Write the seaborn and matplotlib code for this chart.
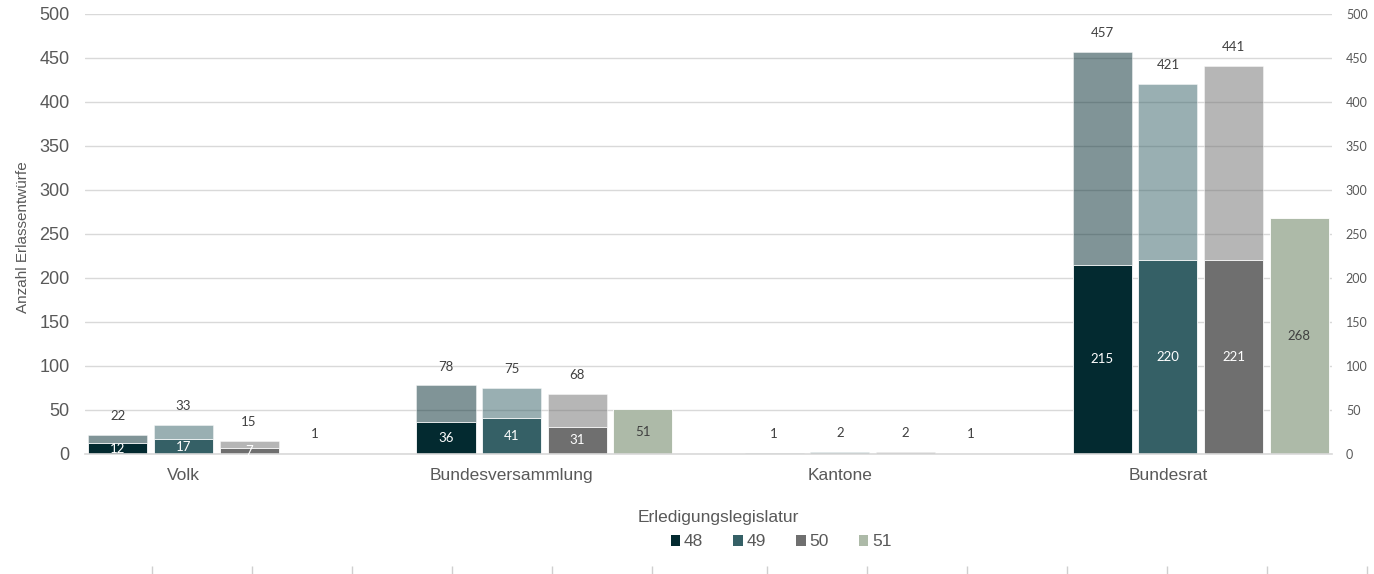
import pandas as pd
import seaborn as sns
from matplotlib import pyplot as plt
from matplotlib.patches import Patch

# Daten
gruppen = ["Volk", "Bundesversammlung", "Kantone", "Bundesrat"]
legislaturen = ["48", "49", "50", "51"]

# Total der Erlassentwürfe (helle Säulen)
total_48 = [22, 78, 1, 457]
total_49 = [33, 75, 2, 421]
total_50 = [15, 68, 2, 441]
total_51 = [1, 51, 1, 268]

# Anteil (dunkle Säulen)
anteil_48 = [12, 36, 0, 215]
anteil_49 = [17, 41, 0, 220]
anteil_50 = [7, 31, 0, 221]
anteil_51 = [1, 51, 1, 268]

farben = ["#032a30", "#356066", "#6f6f6f", "#adbaa8"]
grau = "#595959"
text_grau = "#404040"


def to_long(reihen):
    rows = []
    for leg, werte in zip(legislaturen, reihen):
        for g, w in zip(gruppen, werte):
            rows.append({"Gruppe": g, "Legislatur": leg, "Wert": w})
    return pd.DataFrame(rows)


df_total = to_long([total_48, total_49, total_50, total_51])
df_anteil = to_long([anteil_48, anteil_49, anteil_50, anteil_51])

sns.set_style("white")
plt.rcParams["font.family"] = ["Liberation Sans", "DejaVu Sans"]

fig = plt.figure(figsize=(13.74, 5.74), dpi=100)
ax = fig.add_axes([85 / 1374, 120 / 574, 1247 / 1374, 440 / 574])

pal = dict(zip(legislaturen, farben))
sns.barplot(data=df_total, x="Gruppe", y="Wert", hue="Legislatur", hue_order=legislaturen,
            palette=pal, saturation=1, gap=0.1, errorbar=None, legend=False, ax=ax,
            edgecolor="white", linewidth=0.6)
n_total = len(ax.containers)
for cont, leg in zip(ax.containers[:n_total], legislaturen):
    for p in cont:
        p.set_alpha(0.5 if leg != "51" else 0.0)

sns.barplot(data=df_anteil, x="Gruppe", y="Wert", hue="Legislatur", hue_order=legislaturen,
            palette=pal, saturation=1, gap=0.1, errorbar=None, legend=False, ax=ax,
            edgecolor="white", linewidth=0.6)

lab_font = ["Lato", "DejaVu Sans"]

# Beschriftungen Total
for cont, leg, werte in zip(ax.containers[:n_total], legislaturen,
                            [total_48, total_49, total_50, total_51]):
    if leg == "51":
        continue
    for p, w in zip(cont, werte):
        ax.annotate(str(w), (p.get_x() + p.get_width() / 2, p.get_height()),
                    xytext=(0, 13.5), textcoords="offset points", ha="center", va="center",
                    fontsize=9.5, color=text_grau, family=lab_font)

# Beschriftungen Anteil
for cont, leg, werte in zip(ax.containers[n_total:], legislaturen,
                            [anteil_48, anteil_49, anteil_50, anteil_51]):
    for p, w in zip(cont, werte):
        if w == 0:
            continue
        x = p.get_x() + p.get_width() / 2
        if leg == "51":
            if w < 10:
                ax.annotate(str(w), (x, w), xytext=(0, 13.5), textcoords="offset points",
                            ha="center", va="center", fontsize=9.5, color=text_grau, family=lab_font)
            else:
                ax.text(x, w / 2, str(w), ha="center", va="center", fontsize=9.5,
                        color=text_grau, family=lab_font)
        else:
            ax.text(x, w / 2, str(w), ha="center", va="center", fontsize=9.5,
                    color="white", family=lab_font)

ax.set_xlim(-0.4, 3.4)
ax.set_ylim(0, 500)
ax.set_yticks(range(0, 501, 50))
ax.yaxis.grid(True, color="#d9d9d9", linewidth=1)
ax.set_axisbelow(True)
for s in ["top", "right", "left"]:
    ax.spines[s].set_visible(False)
ax.spines["bottom"].set_color("#d9d9d9")
ax.spines["bottom"].set_linewidth(1.2)

ax.set_xticks([i - 0.1 for i in range(len(gruppen))])
ax.set_xticklabels(gruppen)
ax.tick_params(axis="x", length=0, pad=10, labelsize=12.5, labelcolor=grau)
ax.tick_params(axis="y", length=0, pad=11, labelsize=13, labelcolor=grau)

ax.set_xlabel("Erledigungslegislatur", fontsize=12.5, color=grau)
ax.xaxis.set_label_coords(0.508, -0.128)
ax.set_ylabel("Anzahl Erlassentwürfe", fontsize=11, color=grau)
ax.yaxis.set_label_coords(-0.044, 0.492)

ax2 = ax.twinx()
ax2.set_ylim(0, 500)
ax2.set_yticks(range(0, 501, 50))
ax2.tick_params(axis="y", length=0, pad=10, labelsize=9, labelcolor=grau)
for lbl in ax2.get_yticklabels():
    lbl.set_family(lab_font)
for s in ax2.spines.values():
    s.set_visible(False)

handles = [Patch(facecolor=c, edgecolor="none") for c in farben]
fig.legend(handles, legislaturen, loc="center", bbox_to_anchor=(781 / 1374, 1 - 542 / 574),
           ncol=4, frameon=False, fontsize=12.5, handlelength=0.55, handleheight=0.55,
           handletextpad=0.2, columnspacing=1.75, labelcolor=grau)

# Teilstriche am unteren Rand
ax3 = fig.add_axes([0, 0, 1, 8 / 574])
ax3.set_xlim(0, 1374)
ax3.set_ylim(0, 1)
ax3.set_xticks([152, 252, 352, 452, 552, 652, 767, 867, 967, 1067, 1167, 1267, 1367])
ax3.tick_params(axis="x", bottom=True, direction="in", length=6, width=1, color="#cfcfcf",
                labelbottom=False)
ax3.set_yticks([])
for s in ax3.spines.values():
    s.set_visible(False)
ax3.patch.set_alpha(0)

fig.savefig("out.png", dpi=100)
